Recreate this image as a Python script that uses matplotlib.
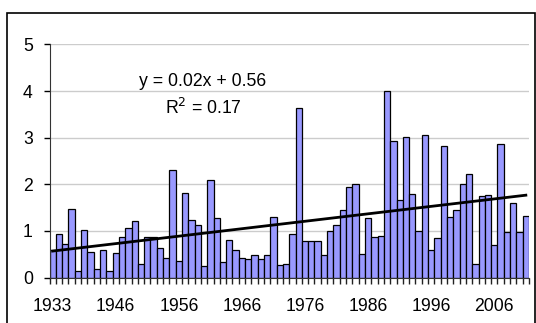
import numpy as np
import matplotlib
matplotlib.use("Agg")
import matplotlib.pyplot as plt
from matplotlib.patches import Rectangle

plt.rcParams['font.family'] = ['Liberation Sans', 'DejaVu Sans']

# years shown on the category axis (some early years missing)
years = [1933, 1934, 1935, 1936, 1937, 1938, 1939, 1940, 1944, 1945] + list(range(1946, 2012))

values = [
    0.60, 0.93, 0.72, 1.48, 0.15, 1.02, 0.55, 0.18, 0.60, 0.15,
    0.52, 0.88, 1.06, 1.21, 0.30, 0.87, 0.87, 0.63, 0.42, 2.30,
    0.36, 1.82, 1.24, 1.12, 0.24, 2.10, 1.27, 0.33, 0.81, 0.60,
    0.42, 0.39, 0.48, 0.39, 0.48, 1.30, 0.27, 0.30, 0.94, 3.63,
    0.78, 0.78, 0.78, 0.48, 1.00, 1.12, 1.45, 1.94, 2.00, 0.51,
    1.27, 0.87, 0.90, 4.00, 2.93, 1.66, 3.02, 1.79, 1.00, 3.05,
    0.60, 0.85, 2.83, 1.30, 1.45, 2.00, 2.22, 0.30, 1.75, 1.78,
    0.70, 2.86, 0.97, 1.60, 0.97, 1.33,
]

equation = "y = 0.02x + 0.56"
r2_text = "R$^2$ = 0.17"

idx = np.arange(1, len(values) + 1)
fs = 12.7

fig = plt.figure(figsize=(5.36, 3.23), dpi=100)
W, H = 536, 323
ax = fig.add_axes([49.5 / W, 1 - 277.6 / H, (529 - 49.5) / W, (277.6 - 44.4) / H])

# chart border
fig.patches.append(Rectangle((7 / W, -0.05), (535 - 7) / W, 1.05 - 13 / H,
                             transform=fig.transFigure, fill=False,
                             edgecolor='black', linewidth=1.2))

ax.bar(idx, values, width=1.0, color='#9999FF', edgecolor='black', linewidth=0.9, zorder=2)

# linear trend over category index
slope, intercept = np.polyfit(idx, values, 1)
ax.plot([idx[0], idx[-1]], [slope * idx[0] + intercept, slope * idx[-1] + intercept],
        color='black', linewidth=2, zorder=3)

ax.set_xlim(0.5, len(values) + 0.5)
ax.set_ylim(0, 5)
ax.set_yticks(range(6))
ax.grid(axis='y', color='#CCCCCC', linewidth=1, zorder=0)
ax.set_axisbelow(True)

# ticks at category boundaries, labels every 10th category
ax.set_xticks(np.arange(0.5, len(values) + 1, 1))
ax.set_xticklabels([])
ax.set_xticks(idx[::10], minor=True)
ax.set_xticklabels([str(years[i - 1]) for i in idx[::10]], minor=True, fontsize=fs)
ax.tick_params(axis='x', which='major', length=4, width=1, direction='out', color='#222222')
ax.tick_params(axis='x', which='minor', length=0, pad=15)
ax.tick_params(axis='y', length=4, width=1, direction='out', labelsize=fs, pad=8)

for s in ['top', 'right']:
    ax.spines[s].set_visible(False)
ax.spines['left'].set_color('#333333')
ax.spines['bottom'].set_color('#333333')

ax.text(203 / W, 1 - 81 / H, equation, transform=fig.transFigure,
        ha='center', va='center', fontsize=fs)
ax.text(203 / W, 1 - 108 / H, r2_text, transform=fig.transFigure,
        ha='center', va='center', fontsize=fs)

fig.savefig("out.png", dpi=100)
